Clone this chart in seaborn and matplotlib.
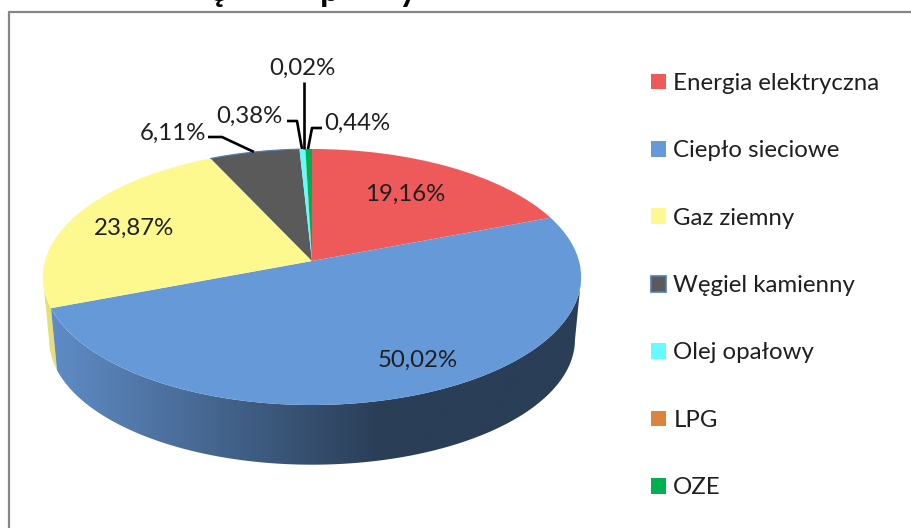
import numpy as np
import matplotlib
matplotlib.use("Agg")
import matplotlib.pyplot as plt
from matplotlib.colors import LinearSegmentedColormap
from matplotlib.patches import Polygon
from matplotlib.transforms import Transform
import seaborn as sns

labels = ["Energia elektryczna", "Ciepło sieciowe", "Gaz ziemny", "Węgiel kamienny",
          "Olej opałowy", "LPG", "OZE"]
shares = [19.16, 50.02, 23.87, 6.11, 0.38, 0.02, 0.44]
share_labels = ["19,16%", "50,02%", "23,87%", "6,11%", "0,38%", "0,02%", "0,44%"]
colors = ["#ee5a5a", "#6699d8", "#fdf98f", "#5a5a5a", "#66fbff", "#db843d", "#00b050"]

sns.set_theme(style="white")
plt.rcParams["font.family"] = ["Lato", "DejaVu Sans"]


# tilts the flat unit pie into the perspective ellipse of the picture
class PieTilt(Transform):
    input_dims = 2
    output_dims = 2

    def transform_non_affine(self, xy):
        xy = np.asarray(xy, dtype=float)
        w = 1 + 0.125 * xy[:, 1]
        return np.column_stack([312 + 267 * xy[:, 0] / w, 261 - 126 * xy[:, 1] / w])


tilt = PieTilt()


def rim(start, stop, bottom=False):
    a = np.radians(np.linspace(start, stop, 200))
    pts = tilt.transform_non_affine(np.column_stack([np.sin(a), np.cos(a)]))
    if bottom:
        # the lower rim is a bit smaller and 63 px down
        pts = np.column_stack([312 + (pts[:, 0] - 312) * 0.977, 261 + (pts[:, 1] - 261) * 0.977 + 63])
    return pts


fig, ax = plt.subplots(figsize=(9.11, 5.28), dpi=100)
ax.set_position([0, 0, 1, 1])

wedges, _ = ax.pie(shares, colors=colors, startangle=90, counterclock=False, frame=False)
for w in wedges:
    w.set_transform(tilt + ax.transData)
    w.set_zorder(5)
    w.set_linewidth(0)

# side wall, only from the widest points of the rim down the front
ends = np.cumsum(shares) * 3.6
grid = np.linspace(0, 360, 721)
grid_x = rim(0, 360)[:, 0]
right_angle = grid[np.argmax(np.interp(grid, np.linspace(0, 360, 200), grid_x))]
left_angle = grid[np.argmin(np.interp(grid, np.linspace(0, 360, 200), grid_x))]

ax.add_patch(Polygon(np.vstack([rim(ends[1], left_angle), rim(ends[1], left_angle, True)[::-1]]),
                     color="#e4df78", lw=0, zorder=1))

wall_cmap = LinearSegmentedColormap.from_list("wall", ["#5f8cc6", "#2a3e57"])
wall = Polygon(np.vstack([rim(right_angle, ends[1]), rim(right_angle, ends[1], True)[::-1]]),
               transform=ax.transData, fill=False, lw=0)
ax.add_patch(wall)
ramp = np.clip(np.linspace(0, 530, 531) / 330, 0, 1).reshape(1, -1)
img = ax.imshow(ramp, cmap=wall_cmap, extent=(51, 581, 480, 270), aspect="auto", zorder=2)
img.set_clip_path(wall)

ax.set_aspect("auto")
ax.set_xlim(0, 911)
ax.set_ylim(528, 0)
ax.axis("off")

# thin blue rim on the dark slice
gray_rim = rim(ends[2], ends[3])
ax.plot(gray_rim[:, 0], gray_rim[:, 1], color="#4f7db8", lw=0.8, zorder=6)

# labels
text_style = dict(fontsize=17.3, color="#1f1f1f", ha="center", va="center", zorder=8)
ax.text(405, 194, share_labels[0], **text_style)
ax.text(418, 360, share_labels[1], **text_style)
ax.text(134, 228, share_labels[2], **text_style)
ax.text(173, 133, share_labels[3], **text_style)
ax.text(249, 116, share_labels[4], **text_style)
ax.text(302, 68, share_labels[5], **text_style)
ax.text(357, 123, share_labels[6], **text_style)

# leader lines
lines = [([208, 222, 254], [137, 137, 152]),
         ([287, 297, 302], [121, 121, 149]),
         ([304, 304], [82, 149]),
         ([322, 312, 308], [128, 128, 149])]
for lx, ly in lines:
    ax.plot(lx, ly, color="black", lw=1.9, zorder=7, solid_capstyle="butt")

# legend
leg = ax.legend(wedges, labels, loc="upper left", bbox_to_anchor=(651 / 911, 1 - 73 / 528),
                frameon=False, fontsize=17.3, labelcolor="#1f1f1f", handlelength=0.63, handleheight=0.63,
                handletextpad=0.3, labelspacing=1.93, borderpad=0, borderaxespad=0)
leg.legend_handles[3].set_edgecolor("#4f7db8")
leg.legend_handles[3].set_linewidth(1.2)

# frame, only top and left visible
ax.plot([9, 9, 911], [528, 12, 12], color="#868686", lw=1.6, zorder=9, clip_on=False)

# bottom of the cut off title
for x, ch in [(218, "ę"), (330, "p"), (408, "y")]:
    ax.text(x, -9, ch, fontsize=25, fontweight="bold", color="black", ha="center",
            va="center", clip_on=False)

fig.savefig("out.png", dpi=100)
